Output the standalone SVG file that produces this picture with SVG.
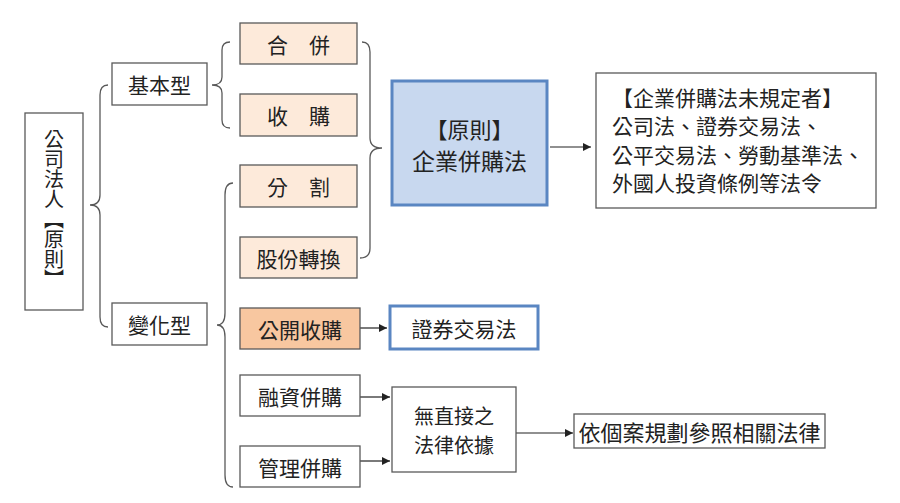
<svg xmlns="http://www.w3.org/2000/svg" width="900" height="503" viewBox="0 0 900 503">
<style>
text{font-family:"Noto Sans CJK TC","Noto Sans CJK SC",sans-serif;font-size:21px;fill:#222;}
.c{text-anchor:middle;dominant-baseline:central;}
.box{fill:#fff;stroke:#595959;stroke-width:1.3;}
.peach{fill:#FDEADA;stroke:#595959;stroke-width:1.3;}
.orange{fill:#F8C7A0;stroke:#595959;stroke-width:1.3;}
.brace{fill:none;stroke:#595959;stroke-width:1.3;}
.line{fill:none;stroke:#222;stroke-width:1.2;}
</style>
<defs>
<marker id="ah" viewBox="0 0 10 10" refX="10" refY="5" markerWidth="8" markerHeight="8" markerUnits="userSpaceOnUse" orient="auto">
<path d="M0,0 L10,5 L0,10 z" fill="#222"/>
</marker>
</defs>
<rect width="900" height="503" fill="#fff"/>

<g id="connectors">
<path class="brace" d="M108,85 Q100,85 100,95 L100,195 Q100,205 90,205 Q100,205 100,215 L100,317 Q100,327 108,327"/>
<path class="brace" d="M230,42 Q222,42 222,50 L222,77 Q222,85 212,85 Q222,85 222,93 L222,120 Q222,128 230,128"/>
<path class="brace" d="M362,42 Q370,42 370,52 L370,138 Q370,148 382,148 Q370,148 370,158 L370,248 Q370,258 360,258"/>
<path class="brace" d="M233,183 Q225,183 225,195 L225,313 Q225,325 217,325 Q225,325 225,337 L225,475 Q225,487 233,487"/>
<path class="line" d="M550,147 L591,147" marker-end="url(#ah)"/>
<path class="line" d="M360,328 L387,328" marker-end="url(#ah)"/>
<path class="line" d="M360,397 L390,397" marker-end="url(#ah)"/>
<path class="line" d="M360,461 L390,461" marker-end="url(#ah)"/>
<path class="line" d="M516,433 L573,433" marker-end="url(#ah)"/>
</g>

<g id="root">
<rect class="box" x="25" y="113" width="58" height="197"/>
<text x="54" y="129" style="writing-mode:vertical-rl;font-size:20px" text-anchor="start">公司法人【原則】</text>
</g>
<g id="basic">
<rect class="box" x="112" y="63" width="95" height="42"/>
<text class="c" x="159.5" y="84">基本型</text>
</g>
<g id="variant">
<rect class="box" x="112" y="303" width="95" height="42"/>
<text class="c" x="159.5" y="324">變化型</text>
</g>
<g id="merger">
<rect class="peach" x="240" y="23" width="117" height="41"/>
<text class="c" x="298.5" y="43.5">合　併</text>
</g>
<g id="acquisition">
<rect class="peach" x="240" y="94" width="117" height="42"/>
<text class="c" x="298.5" y="115">收　購</text>
</g>
<g id="division">
<rect class="peach" x="240" y="165" width="117" height="42"/>
<text class="c" x="298.5" y="186">分　割</text>
</g>
<g id="shareswap">
<rect class="peach" x="240" y="237" width="117" height="41"/>
<text class="c" x="298.5" y="257.5">股份轉換</text>
</g>
<g id="tender">
<rect class="orange" x="240" y="308" width="120" height="41"/>
<text class="c" x="300" y="328.5">公開收購</text>
</g>
<g id="lbo">
<rect class="box" x="240" y="375" width="120" height="41"/>
<text class="c" x="300" y="395.5">融資併購</text>
</g>
<g id="mbo">
<rect class="box" x="240" y="446" width="120" height="41"/>
<text class="c" x="300" y="466.5">管理併購</text>
</g>
<g id="mal">
<rect x="392" y="81" width="155" height="124" fill="#C8D8EF" stroke="#5A86C2" stroke-width="3"/>
<text class="c" x="469.5" y="128" style="font-size:22px">【原則】</text>
<text class="c" x="469.5" y="160" style="font-size:23px">企業併購法</text>
</g>
<g id="otherlaws">
<rect class="box" x="596" y="73" width="280" height="135"/>
<text x="612" y="97" dominant-baseline="central">【企業併購法未規定者】</text>
<text x="612" y="125" dominant-baseline="central">公司法、證券交易法、</text>
<text x="612" y="154" dominant-baseline="central">公平交易法、勞動基準法、</text>
<text x="612" y="182" dominant-baseline="central">外國人投資條例等法令</text>
</g>
<g id="sec">
<rect x="390" y="306" width="148" height="43" fill="#fff" stroke="#5A86C2" stroke-width="3"/>
<text class="c" x="464" y="328">證券交易法</text>
</g>
<g id="nobasis">
<rect class="box" x="392" y="387" width="124" height="85"/>
<text class="c" x="454" y="415.5" style="font-size:20px">無直接之</text>
<text class="c" x="454" y="444.5" style="font-size:20px">法律依據</text>
</g>
<g id="casebycase">
<rect class="box" x="574" y="414" width="251" height="34"/>
<text class="c" x="699.5" y="431" style="font-size:22px">依個案規劃參照相關法律</text>
</g>
</svg>
